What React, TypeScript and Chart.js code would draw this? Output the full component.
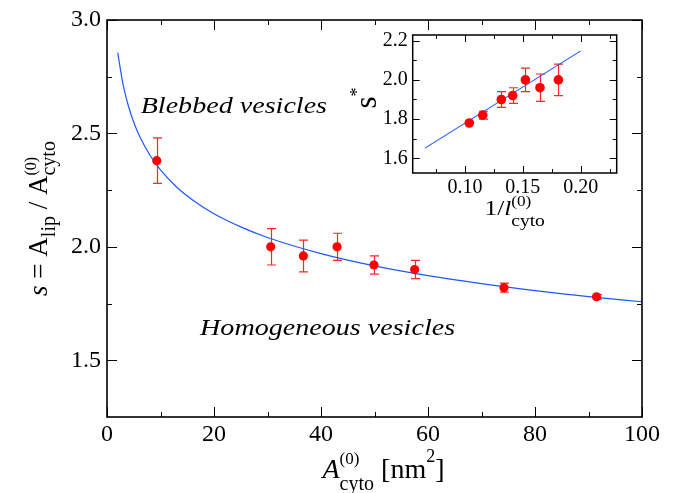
import React, { useEffect, useRef } from "react";
import { Chart, registerables } from "chart.js";
Chart.register(...registerables);

// ---------- main panel data ----------
const areaValues = [9.3, 30.6, 36.7, 43.0, 49.9, 57.5, 74.2, 91.5];
const sValues = [2.38, 2.0, 1.96, 2.0, 1.92, 1.9, 1.82, 1.78];
const sErrors = [0.1, 0.08, 0.07, 0.06, 0.04, 0.04, 0.02, 0.01];

const fitArea = [2, 3, 4, 5, 6, 8, 10, 13, 16, 20, 25, 30, 40, 50, 60, 70, 80, 90, 100];
const fitS = [2.856, 2.716, 2.621, 2.549, 2.492, 2.405, 2.339, 2.264, 2.207, 2.146, 2.088, 2.041, 1.97, 1.916, 1.873, 1.838, 1.807, 1.781, 1.758];

const mainXTicks = [0, 20, 40, 60, 80, 100];
const mainXLabels = ["0", "20", "40", "60", "80", "100"];
const mainXMinor = [10, 30, 50, 70, 90];
const mainYTicks = [1.5, 2.0, 2.5, 3.0];
const mainYLabels = ["1.5", "2.0", "2.5", "3.0"];
const mainYMinor = [1.75, 2.25, 2.75];

// ---------- inset data ----------
const invLength = [0.1037, 0.1153, 0.1314, 0.1412, 0.1522, 0.1648, 0.1807];
const insetS = [1.78, 1.82, 1.9, 1.92, 2.0, 1.96, 2.0];
const insetErr = [0.0, 0.02, 0.04, 0.04, 0.06, 0.07, 0.08];

const insetFitX = [0.0654, 0.2];
const insetFitS = [1.652, 2.148];

const insetXTicks = [0.1, 0.15, 0.2];
const insetXLabels = ["0.10", "0.15", "0.20"];
const insetXMinor = [0.075, 0.125, 0.175, 0.225];
const insetYTicks = [1.6, 1.8, 2.0, 2.2];
const insetYLabels = ["1.6", "1.8", "2.0", "2.2"];
const insetYMinor = [1.7, 1.9, 2.1];

const SERIF = '"Liberation Serif"';
const RED = "#ff0000";
const BAR = "#ff2626";
const BLUE = "#1f57ff";

type Seg = { t: string; f: string; dy?: number; stack?: boolean };

function richWidth(ctx: CanvasRenderingContext2D, segs: Seg[]) {
  let w = 0;
  let pending = 0;
  for (const s of segs) {
    ctx.font = s.f;
    const sw = ctx.measureText(s.t).width;
    if (s.stack) pending = Math.max(pending, sw);
    else {
      w += Math.max(sw, pending);
      pending = 0;
    }
  }
  return w + pending;
}

function drawRich(ctx: CanvasRenderingContext2D, segs: Seg[], x: number, y: number) {
  let cx = x;
  let pending = 0;
  for (const s of segs) {
    ctx.font = s.f;
    const sw = ctx.measureText(s.t).width;
    ctx.fillText(s.t, cx, y + (s.dy || 0));
    if (s.stack) pending = Math.max(pending, sw);
    else {
      cx += Math.max(sw, pending);
      pending = 0;
    }
  }
}

function drawBox(
  chart: any,
  xMajor: number[],
  xMinor: number[],
  yMajor: number[],
  yMinor: number[],
  major: number,
  minor: number,
  lw: number
) {
  const ctx = chart.ctx as CanvasRenderingContext2D;
  const a = chart.chartArea;
  const xs = chart.scales.x;
  const ys = chart.scales.y;
  ctx.save();
  ctx.strokeStyle = "#000";
  ctx.lineWidth = 1;
  ctx.beginPath();
  const tickX = (v: number, len: number) => {
    const p = Math.round(xs.getPixelForValue(v)) + 0.5;
    ctx.moveTo(p, a.bottom);
    ctx.lineTo(p, a.bottom - len);
    ctx.moveTo(p, a.top);
    ctx.lineTo(p, a.top + len);
  };
  const tickY = (v: number, len: number) => {
    const p = Math.round(ys.getPixelForValue(v)) + 0.5;
    ctx.moveTo(a.left, p);
    ctx.lineTo(a.left + len, p);
    ctx.moveTo(a.right, p);
    ctx.lineTo(a.right - len, p);
  };
  xMajor.forEach((v) => tickX(v, major));
  xMinor.forEach((v) => tickX(v, minor));
  yMajor.forEach((v) => tickY(v, major));
  yMinor.forEach((v) => tickY(v, minor));
  ctx.stroke();
  ctx.lineWidth = lw;
  ctx.strokeRect(a.left, a.top, a.right - a.left, a.bottom - a.top);
  ctx.restore();
}

function drawErrorBars(chart: any, xv: number[], yv: number[], ev: number[], cap: number) {
  const ctx = chart.ctx as CanvasRenderingContext2D;
  const xs = chart.scales.x;
  const ys = chart.scales.y;
  ctx.save();
  ctx.strokeStyle = BAR;
  ctx.lineWidth = 1.2;
  ctx.beginPath();
  for (let i = 0; i < xv.length; i++) {
    if (!ev[i]) continue;
    const px = Math.round(xs.getPixelForValue(xv[i])) + 0.5;
    const t = ys.getPixelForValue(yv[i] + ev[i]);
    const b = ys.getPixelForValue(yv[i] - ev[i]);
    ctx.moveTo(px, t);
    ctx.lineTo(px, b);
    ctx.moveTo(px - cap, t);
    ctx.lineTo(px + cap, t);
    ctx.moveTo(px - cap, b);
    ctx.lineTo(px + cap, b);
  }
  ctx.stroke();
  ctx.restore();
}

function stretchedText(ctx: CanvasRenderingContext2D, t: string, f: string, x: number, y: number, sx: number) {
  ctx.save();
  ctx.translate(x, y);
  ctx.scale(sx, 1);
  ctx.font = f;
  ctx.fillText(t, 0, 0);
  ctx.restore();
}

const zeroPad = (s: any) => {
  s.paddingLeft = 0;
  s.paddingRight = 0;
  s.paddingTop = 0;
  s.paddingBottom = 0;
};

function buildCharts(mainCanvas: HTMLCanvasElement, insetCanvas: HTMLCanvasElement) {
  const mainPlugin = {
    id: "mainDecor",
    beforeDatasetsDraw(chart: any) {
      drawErrorBars(chart, areaValues, sValues, sErrors, 4.5);
    },
    afterDraw(chart: any) {
      drawBox(chart, mainXTicks, mainXMinor, mainYTicks, mainYMinor, 10, 5, 1.6);
      const ctx = chart.ctx as CanvasRenderingContext2D;
      const a = chart.chartArea;
      const xs = chart.scales.x;
      const ys = chart.scales.y;
      ctx.save();
      ctx.fillStyle = "#000";
      ctx.textBaseline = "alphabetic";
      ctx.textAlign = "left";
      stretchedText(ctx, "Blebbed vesicles", `italic 24px ${SERIF}`, xs.getPixelForValue(6.3), ys.getPixelForValue(2.589), 1.17);
      stretchedText(ctx, "Homogeneous vesicles", `italic 24px ${SERIF}`, xs.getPixelForValue(17.4), ys.getPixelForValue(1.611), 1.17);

      const xSegs: Seg[] = [
        { t: "A", f: `italic 28px ${SERIF}` },
        { t: "(0)", f: `17px ${SERIF}`, dy: -14, stack: true },
        { t: "cyto", f: `20px ${SERIF}`, dy: 12 },
        { t: " [nm", f: `28px ${SERIF}` },
        { t: "2", f: `18px ${SERIF}`, dy: -16 },
        { t: "]", f: `28px ${SERIF}` },
      ];
      const xw = richWidth(ctx, xSegs);
      const xc = (a.left + a.right) / 2 + 9;
      drawRich(ctx, xSegs, xc - xw / 2, 478);

      const ySegs: Seg[] = [
        { t: "s", f: `italic 27px ${SERIF}` },
        { t: " = A", f: `27px ${SERIF}` },
        { t: "lip", f: `20px ${SERIF}`, dy: 8 },
        { t: " / A", f: `27px ${SERIF}` },
        { t: "(0)", f: `16px ${SERIF}`, dy: -11, stack: true },
        { t: "cyto", f: `20px ${SERIF}`, dy: 8 },
      ];
      const yw = richWidth(ctx, ySegs);
      ctx.translate(47, (a.top + a.bottom) / 2);
      ctx.rotate(-Math.PI / 2);
      drawRich(ctx, ySegs, -yw / 2, 0);
      ctx.restore();
    },
  };

  const main = new Chart(mainCanvas, {
    type: "scatter",
    data: {
      datasets: [
        {
          data: areaValues.map((x, i) => ({ x, y: sValues[i] })),
          backgroundColor: RED,
          borderColor: RED,
          pointRadius: 4.6,
          pointBorderWidth: 0,
          showLine: false,
        },
        {
          data: fitArea.map((x, i) => ({ x, y: fitS[i] })),
          borderColor: BLUE,
          borderWidth: 1.2,
          pointRadius: 0,
          showLine: true,
          cubicInterpolationMode: "monotone",
        } as any,
      ],
    },
    options: {
      responsive: false,
      animation: false,
      events: [],
      layout: { padding: { left: 0, right: 35, top: 20, bottom: 0 } },
      plugins: { legend: { display: false }, tooltip: { enabled: false } },
      scales: {
        x: {
          type: "linear",
          min: 0,
          max: 100,
          grid: { display: false, drawTicks: false },
          border: { display: false },
          ticks: {
            color: "#000",
            font: { family: SERIF, size: 24 },
            padding: 3,
            maxRotation: 0,
            autoSkip: false,
            callback: (v: any) => mainXLabels[mainXTicks.indexOf(Number(v))] ?? "",
          },
          afterBuildTicks: (s: any) => {
            s.ticks = mainXTicks.map((value) => ({ value }));
          },
          afterFit: (s: any) => {
            s.height = 76;
            zeroPad(s);
          },
        },
        y: {
          type: "linear",
          min: 1.25,
          max: 3.0,
          grid: { display: false, drawTicks: false },
          border: { display: false },
          ticks: {
            color: "#000",
            font: { family: SERIF, size: 24 },
            padding: 6,
            autoSkip: false,
            callback: (v: any) => mainYLabels[mainYTicks.indexOf(Number(v))] ?? "",
          },
          afterBuildTicks: (s: any) => {
            s.ticks = mainYTicks.map((value) => ({ value }));
          },
          afterFit: (s: any) => {
            s.width = 107;
            zeroPad(s);
          },
        },
      },
    },
    plugins: [mainPlugin],
  });

  const insetPlugin = {
    id: "insetDecor",
    beforeDatasetsDraw(chart: any) {
      drawErrorBars(chart, invLength, insetS, insetErr, 4.5);
    },
    afterDraw(chart: any) {
      drawBox(chart, insetXTicks, insetXMinor, insetYTicks, insetYMinor, 7, 4, 1.5);
      const ctx = chart.ctx as CanvasRenderingContext2D;
      const a = chart.chartArea;
      ctx.save();
      ctx.fillStyle = "#000";
      ctx.textBaseline = "alphabetic";
      ctx.textAlign = "left";
      const tSegs: Seg[] = [
        { t: "1/", f: `22px ${SERIF}` },
        { t: "l", f: `italic 22px ${SERIF}` },
        { t: "(0)", f: `15px ${SERIF}`, dy: -9, stack: true },
        { t: "cyto", f: `17px ${SERIF}`, dy: 11 },
      ];
      ctx.save();
      const tw = richWidth(ctx, tSegs) * 1.15;
      ctx.translate((a.left + a.right) / 2 - tw / 2, 215);
      ctx.scale(1.15, 1);
      drawRich(ctx, tSegs, 0, 0);
      ctx.restore();

      const sSegs: Seg[] = [
        { t: "s", f: `31px ${SERIF}` },
        { t: "*", f: `18px ${SERIF}`, dy: -13 },
      ];
      const sw = richWidth(ctx, sSegs);
      ctx.translate(376, (a.top + a.bottom) / 2 - 6);
      ctx.rotate(-Math.PI / 2);
      drawRich(ctx, sSegs, -sw / 2, 0);
      ctx.restore();
    },
  };

  const inset = new Chart(insetCanvas, {
    type: "scatter",
    data: {
      datasets: [
        {
          data: invLength.map((x, i) => ({ x, y: insetS[i] })),
          backgroundColor: RED,
          borderColor: RED,
          pointRadius: 4.8,
          pointBorderWidth: 0,
          showLine: false,
        },
        {
          data: insetFitX.map((x, i) => ({ x, y: insetFitS[i] })),
          borderColor: BLUE,
          borderWidth: 1.1,
          pointRadius: 0,
          showLine: true,
        },
      ],
    },
    options: {
      responsive: false,
      animation: false,
      events: [],
      layout: { padding: { left: 360, right: 60.3, top: 35, bottom: 290 } },
      plugins: { legend: { display: false }, tooltip: { enabled: false } },
      scales: {
        x: {
          type: "linear",
          min: 0.0548,
          max: 0.2311,
          grid: { display: false, drawTicks: false },
          border: { display: false },
          ticks: {
            color: "#000",
            font: { family: SERIF, size: 20 },
            padding: 3,
            maxRotation: 0,
            autoSkip: false,
            callback: (v: any) => {
              const i = insetXTicks.findIndex((t) => Math.abs(t - Number(v)) < 1e-6);
              return i >= 0 ? insetXLabels[i] : "";
            },
          },
          afterBuildTicks: (s: any) => {
            s.ticks = insetXTicks.map((value) => ({ value }));
          },
          afterFit: (s: any) => {
            s.height = 30;
            zeroPad(s);
          },
        },
        y: {
          type: "linear",
          min: 1.525,
          max: 2.229,
          grid: { display: false, drawTicks: false },
          border: { display: false },
          ticks: {
            color: "#000",
            font: { family: SERIF, size: 20 },
            padding: 5,
            autoSkip: false,
            callback: (v: any) => {
              const i = insetYTicks.findIndex((t) => Math.abs(t - Number(v)) < 1e-6);
              return i >= 0 ? insetYLabels[i] : "";
            },
          },
          afterBuildTicks: (s: any) => {
            s.ticks = insetYTicks.map((value) => ({ value }));
          },
          afterFit: (s: any) => {
            s.width = 52.7;
            zeroPad(s);
          },
        },
      },
    },
    plugins: [insetPlugin],
  });

  return [main, inset];
}

export default function App() {
  const mainRef = useRef<HTMLCanvasElement>(null);
  const insetRef = useRef<HTMLCanvasElement>(null);

  useEffect(() => {
    document.body.style.margin = "0";
    const charts = buildCharts(mainRef.current!, insetRef.current!);
    return () => {
      charts.forEach((c) => c.destroy());
    };
  }, []);

  return (
    <div style={{ position: "relative", width: 677, height: 493, background: "#fff" }}>
      <canvas ref={mainRef} width={677} height={493} style={{ position: "absolute", left: 0, top: 0 }} />
      <canvas ref={insetRef} width={677} height={493} style={{ position: "absolute", left: 0, top: 0 }} />
    </div>
  );
}
